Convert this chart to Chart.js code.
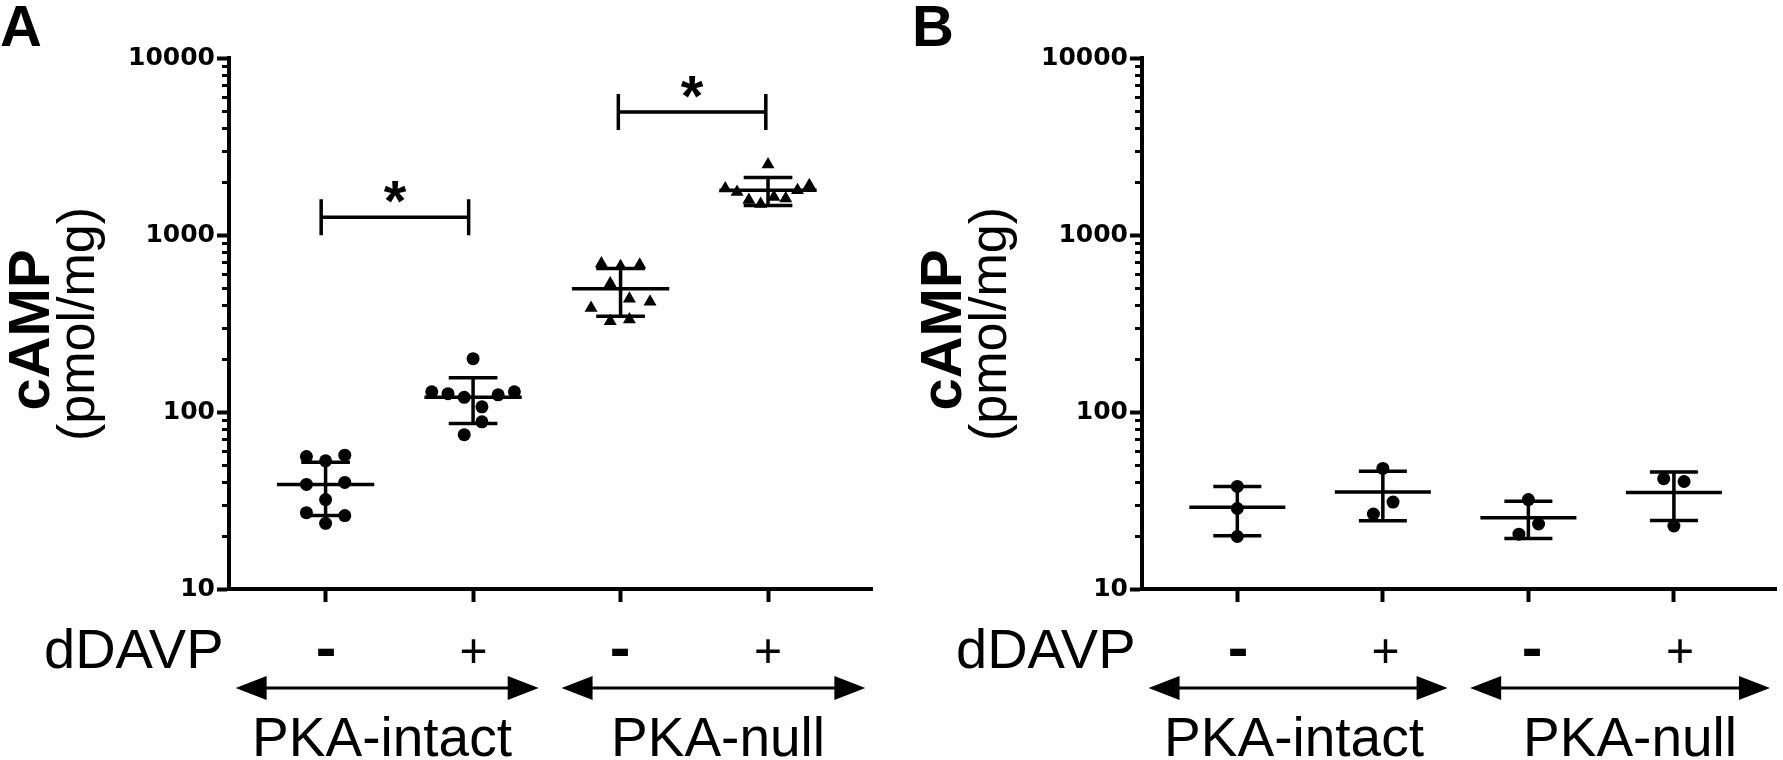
<!DOCTYPE html>
<html>
<head>
<meta charset="utf-8">
<script src="https://cdn.jsdelivr.net/npm/chart.js@4.4.1/dist/chart.umd.min.js"></script>
<style>
  html, body { margin: 0; padding: 0; background: #fff; }
  #wrap { position: relative; width: 1783px; height: 760px; overflow: hidden; }
  canvas { position: absolute; top: 0; }
  .lbl { position: absolute; left: 0; top: 0; font-family: 'Liberation Sans', Arial, sans-serif;
         color: #000; line-height: 1; white-space: nowrap; transform-origin: 0 0; }
</style>
</head>
<body>
<div id="wrap">
  <canvas id="chartA" width="900" height="760" style="left:0"></canvas>
  <canvas id="chartB" width="883" height="760" style="left:900px"></canvas>
</div>
<script>
// ---- data ----
const groupPos = [1, 2, 3, 4];           // -/+ PKA-intact, -/+ PKA-null
const yTicks = [10, 100, 1000, 10000];

// panel A (n = 9 per group)
const aIntactNeg    = [56, 53, 57, 39, 32, 40, 27, 23.5, 26];
const aIntactNegJit = [-0.13, 0, 0.13, -0.13, 0, 0.13, -0.13, 0, 0.13];
const aIntactPos    = [200, 130, 127, 121, 125, 130, 107, 88, 74.5];
const aIntactPosJit = [0, -0.28, -0.17, -0.06, 0.17, 0.28, 0.06, 0.06, -0.06];
const aNullNeg      = [690, 665, 680, 532, 437, 419, 387, 326, 333];
const aNullNegJit   = [-0.13, 0, 0.13, -0.07, 0.06, 0.2, -0.2, -0.07, 0.06];
const aNullPos      = [2500, 1830, 1750, 1910, 1790, 1575, 1495, 1640, 1610];
const aNullPosJit   = [0, -0.29, -0.21, 0.28, 0.2, -0.13, -0.05, 0.04, 0.12];
const aMean = [39, 121, 497, 1790];
const aSD   = [13, 35, 150, 320];
const sigPairs  = [[0.97, 1.97], [2.985, 3.985]];
const sigLevels = [1260, 4950];

// panel B (n = 3 per group)
const bIntactNeg    = [38, 28.5, 19.8];
const bIntactNegJit = [0, 0, 0];
const bIntactPos    = [48, 31, 26.5];
const bIntactPosJit = [0, 0.07, -0.065];
const bNullNeg      = [32, 23.3, 20.4];
const bNullNegJit   = [0, 0.07, -0.065];
const bNullPos      = [42, 40.5, 22.7];
const bNullPosJit   = [-0.07, 0.07, 0];
const bMean = [29, 35.3, 25.3, 35.1];
const bSD   = [9, 11, 6, 10.7];

const minorTicks = [];
[10, 100, 1000].forEach(d => { for (let k = 2; k <= 9; k++) minorTicks.push(k * d); });

/* ─── Dataset helpers ────────────────────────── */
function pointSet(values, jitter, pos, style, r) {
    return {
        data: values.map((v, i) => ({ x: pos + jitter[i], y: v })),
        pointStyle: style,
        pointRadius: r,
        pointHoverRadius: r,
        pointBackgroundColor: '#000',
        pointBorderWidth: 0,
        showLine: false
    };
}

function lineSet(data) {
    return {
        data: data,
        showLine: true,
        spanGaps: false,
        borderColor: '#000',
        borderWidth: 3.5,
        pointRadius: 0,
        tension: 0
    };
}

function meanSegs(means) {
    const d = [];
    means.forEach((m, i) => {
        const g = groupPos[i];
        d.push({ x: g - 0.33, y: m }, { x: g + 0.33, y: m }, { x: g, y: null });
    });
    return d;
}

function sdSegs(means, sds) {
    const d = [];
    means.forEach((m, i) => {
        const g = groupPos[i], hi = m + sds[i], lo = m - sds[i];
        d.push({ x: g - 0.165, y: hi }, { x: g + 0.165, y: hi }, { x: g, y: null },
               { x: g, y: hi }, { x: g, y: lo }, { x: g, y: null },
               { x: g - 0.165, y: lo }, { x: g + 0.165, y: lo }, { x: g, y: null });
    });
    return d;
}

/* ─── Extra drawing: minor ticks, brackets, arrows ── */
const extrasPlugin = {
    id: 'extras',
    afterDraw(chart, args, opts) {
        const { ctx, scales: { x, y } } = chart;
        ctx.save();
        ctx.strokeStyle = '#000';
        ctx.fillStyle = '#000';

        // minor log ticks
        ctx.lineWidth = 3;
        minorTicks.forEach(v => {
            const py = Math.round(y.getPixelForValue(v)) + 0.5;
            ctx.beginPath();
            ctx.moveTo(x.left - 7, py);
            ctx.lineTo(x.left, py);
            ctx.stroke();
        });

        // significance brackets
        (opts.pairs || []).forEach((p, i) => {
            const x1 = x.getPixelForValue(p[0]), x2 = x.getPixelForValue(p[1]);
            const py = y.getPixelForValue(opts.levels[i]);
            ctx.lineWidth = 3.5;
            ctx.beginPath();
            ctx.moveTo(x1, py); ctx.lineTo(x2, py);
            ctx.moveTo(x1, py - 18); ctx.lineTo(x1, py + 18);
            ctx.moveTo(x2, py - 18); ctx.lineTo(x2, py + 18);
            ctx.stroke();
            ctx.font = "bold 58px 'Liberation Sans', Arial, sans-serif";
            ctx.textAlign = 'center';
            ctx.textBaseline = 'alphabetic';
            const m = ctx.measureText('*');
            const off = (m.actualBoundingBoxAscent - m.actualBoundingBoxDescent) / 2;
            ctx.fillText('*', (x1 + x2) / 2, py - 25 + off);
        });

        // double-headed arrows under the groups
        const ay = y.bottom + 99;
        (opts.arrows || []).forEach(a => {
            const xa = x.getPixelForValue(a[0]), xb = x.getPixelForValue(a[1]);
            ctx.lineWidth = 3;
            ctx.beginPath();
            ctx.moveTo(xa + 20, ay); ctx.lineTo(xb - 20, ay);
            ctx.stroke();
            ctx.beginPath();
            ctx.moveTo(xa, ay); ctx.lineTo(xa + 31, ay - 12); ctx.lineTo(xa + 31, ay + 12); ctx.closePath();
            ctx.moveTo(xb, ay); ctx.lineTo(xb - 31, ay - 12); ctx.lineTo(xb - 31, ay + 12); ctx.closePath();
            ctx.fill();
        });
        ctx.restore();
    }
};

/* ─── Chart builder ──────────────────────────── */
function createPanel(canvasId, pointSets, means, sds, axisWidth, padRight, extras) {
    const ctx = document.getElementById(canvasId);
    return new Chart(ctx.getContext('2d'), {
        type: 'scatter',
        data: { datasets: [...pointSets, lineSet(meanSegs(means)), lineSet(sdSegs(means, sds))] },
        plugins: [extrasPlugin],
        options: {
            responsive: false,
            animation: false,
            devicePixelRatio: 1,
            layout: { padding: { left: 0, right: padRight, top: 58, bottom: 0 } },
            plugins: { legend: { display: false }, tooltip: { enabled: false }, extras: extras },
            scales: {
                x: {
                    type: 'linear',
                    min: 0.345,
                    max: 4.705,
                    afterBuildTicks: s => { s.ticks = groupPos.map(v => ({ value: v })); },
                    afterFit: s => { s.height = 171; },
                    grid: { drawOnChartArea: false, drawTicks: true, tickLength: 13, tickWidth: 4, color: '#000' },
                    border: { display: true, color: '#000', width: 4 },
                    ticks: { callback: () => '', font: { size: 2 } }
                },
                y: {
                    type: 'logarithmic',
                    min: 10,
                    max: 10000,
                    afterBuildTicks: s => { s.ticks = yTicks.map(v => ({ value: v })); },
                    afterFit: s => { s.width = axisWidth; },
                    grid: { drawOnChartArea: false, drawTicks: true, tickLength: 12, tickWidth: 4, color: '#000' },
                    border: { display: true, color: '#000', width: 4 },
                    ticks: {
                        callback: v => String(v),
                        color: '#000',
                        padding: 2,
                        font: { family: "'DejaVu Sans'", weight: 'bold', size: 25 }
                    }
                }
            }
        }
    });
}

createPanel('chartA', [
    pointSet(aIntactNeg, aIntactNegJit, groupPos[0], 'circle', 6.5),
    pointSet(aIntactPos, aIntactPosJit, groupPos[1], 'circle', 6.5),
    pointSet(aNullNeg, aNullNegJit, groupPos[2], 'triangle', 7.5),
    pointSet(aNullPos, aNullPosJit, groupPos[3], 'triangle', 7.5)
], aMean, aSD, 229, 28, { pairs: sigPairs, levels: sigLevels, arrows: [[0.39, 2.445], [2.6, 4.66]] });

createPanel('chartB', [
    pointSet(bIntactNeg, bIntactNegJit, groupPos[0], 'circle', 6.5),
    pointSet(bIntactPos, bIntactPosJit, groupPos[1], 'circle', 6.5),
    pointSet(bNullNeg, bNullNegJit, groupPos[2], 'circle', 6.5),
    pointSet(bNullPos, bNullPosJit, groupPos[3], 'circle', 6.5)
], bMean, bSD, 242, 0, { arrows: [[0.39, 2.445], [2.6, 4.66]] });

/* ─── Text labels ────────────────────────────── */
const BASE = 0.8465; // baseline offset of Liberation Sans at line-height 1
function label(text, x, y, size, bold, align, rotate) {
    const el = document.createElement('div');
    el.className = 'lbl';
    el.textContent = text;
    el.style.fontSize = size + 'px';
    el.style.fontWeight = bold ? 'bold' : 'normal';
    const dx = align === 'center' ? '-50%' : '0';
    el.style.transform = 'translate(' + x + 'px,' + y + 'px)' + (rotate ? ' rotate(-90deg)' : '') +
        ' translate(' + dx + ',' + (-BASE * size) + 'px)';
    document.getElementById('wrap').appendChild(el);
}

[0, 912].forEach((off, p) => {
    label(p === 0 ? 'A' : 'B', 0 + off, 46, 58, true, 'left');
    label('cAMP', 49 + off, 330, 58, true, 'center', true);
    label('(pmol/mg)', 94 + off, 324, 52, false, 'center', true);
    label('dDAVP', 44 + off, 668, 56, false, 'left');
    label('-', 326 + off, 668, 62, true, 'center');
    label('+', 473.5 + off, 668, 48, false, 'center');
    label('-', 620 + off, 668, 62, true, 'center');
    label('+', 768 + off, 668, 48, false, 'center');
    label('PKA-intact', 382 + off, 757, 55, false, 'center');
    label('PKA-null', 718 + off, 757, 55, false, 'center');
});
</script>
</body>
</html>
